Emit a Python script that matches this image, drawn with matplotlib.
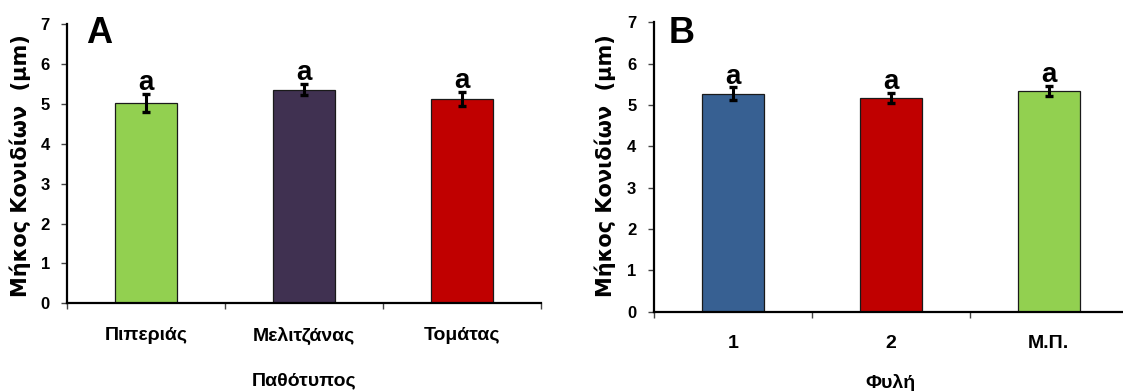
import numpy as np
import matplotlib
matplotlib.use("Agg")
from matplotlib import pyplot as plt
from matplotlib.ticker import FixedLocator
from matplotlib.transforms import blended_transform_factory

plt.rcParams['font.family'] = ['Liberation Sans', 'DejaVu Sans']
plt.rcParams['font.weight'] = 'bold'

# Panel A - pathotype
path_labels = ['Πιπεριάς', 'Μελιτζάνας', 'Τομάτας']
path_means = [5.03, 5.36, 5.13]
path_err = [0.22, 0.14, 0.17]
path_letters = ['a', 'a', 'a']
path_colors = ['#92D050', '#403151', '#C00000']

# Panel B - race
race_labels = ['1', '2', 'Μ.Π.']
race_means = [5.27, 5.17, 5.34]
race_err = [0.155, 0.125, 0.13]
race_letters = ['a', 'a', 'a']
race_colors = ['#376092', '#C00000', '#92D050']

ylabel = 'Μήκος Κονιδίων  (μm)'

W, H = 1123, 391
fig = plt.figure(figsize=(W / 100, H / 100), dpi=100)


def px_axes(left, top, right, bottom):
    # pixel box -> figure fraction
    return fig.add_axes([left / W, 1 - bottom / H, (right - left) / W, (bottom - top) / H])


def draw_panel(ax, labels, means, err, letters, colors, xlabel, tag, tag_x, tag_y, ylab_x, xlab_y):
    x = np.arange(len(labels))
    ax.bar(x, means, width=0.39, color=colors, edgecolor='#1a1a1a', linewidth=0.9, zorder=2)
    ax.errorbar(x, means, yerr=err, fmt='none', ecolor='black', elinewidth=2.2,
                capsize=2.8, capthick=2.4, zorder=3)
    for xi, m, e, lt in zip(x, means, err, letters):
        ax.annotate(lt, (xi, m + e), xytext=(0, 2.8), textcoords='offset points',
                    ha='center', va='baseline', fontsize=20, fontweight='bold')

    ax.set_xlim(-0.5, len(labels) - 0.5)
    ax.set_ylim(0, 7)
    ax.set_yticks(range(0, 8))
    ax.xaxis.set_major_locator(FixedLocator(np.arange(len(labels) + 1) - 0.5))
    ax.xaxis.set_minor_locator(FixedLocator(x))
    ax.set_xticklabels([])
    ax.set_xticklabels(labels, minor=True)
    ax.tick_params(axis='x', which='major', direction='out', length=4, width=1, color='#444444')
    ax.tick_params(axis='x', which='minor', length=0, pad=17, labelsize=14)
    ax.tick_params(axis='y', direction='out', length=4, width=1, color='#444444',
                   pad=8.5, labelsize=12)
    for s in ['top', 'right']:
        ax.spines[s].set_visible(False)
    for s in ['left', 'bottom']:
        ax.spines[s].set_linewidth(1.6)
        ax.spines[s].set_color('black')

    # x title near the bottom edge of the figure
    tr = blended_transform_factory(ax.transAxes, fig.transFigure)
    ax.text(0.5, 1 - xlab_y / H, xlabel, transform=tr, ha='center', va='baseline',
            fontsize=14, fontweight='bold')
    fig.text(tag_x / W, 1 - tag_y / H, tag, ha='left', va='baseline',
             fontsize=26, fontweight='bold')
    fig.text(ylab_x / W, 1 - 166 / H, ylabel, rotation=90, family=['DejaVu Sans'],
             ha='center', va='center', fontsize=15, fontweight='bold')


axA = px_axes(67.3, 24.3, 540.7, 303.3)
axB = px_axes(653.7, 22.3, 1127.7, 311.8)

draw_panel(axA, path_labels, path_means, path_err, path_letters, path_colors,
           'Παθότυπος', 'A', 86, 43.3, 20.5, 385.7)
draw_panel(axB, race_labels, race_means, race_err, race_letters, race_colors,
           'Φυλή', 'B', 669, 43.3, 605.5, 388.5)

fig.savefig('out.png', dpi=100)
